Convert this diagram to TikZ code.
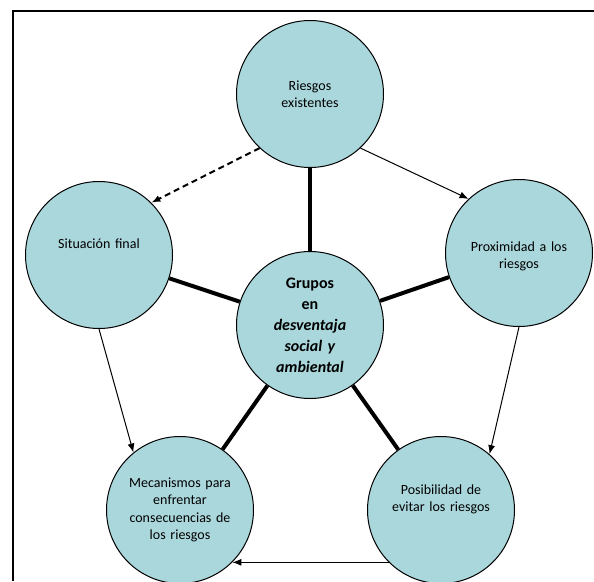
\documentclass[tikz,border=0pt]{standalone}
\usepackage{fontspec}
\setmainfont{Carlito}
\usetikzlibrary{arrows.meta}
\definecolor{celeste}{RGB}{170,215,220}
\tikzstyle{riesgo} = [circle, draw=black, line width=1pt, fill=celeste, minimum size=147pt, inner sep=0pt, text width=112pt, align=center, font=\fontsize{14}{17.5}\selectfont]
\tikzstyle{grupo} = [riesgo, text width=100pt, font=\bfseries\fontsize{16}{21}\selectfont]
\tikzstyle{enlace} = [line width=4pt]
\tikzstyle{arrow} = [line width=1pt, -{Latex[length=9pt,width=7pt]}]

\begin{document}
\begin{tikzpicture}[x=1pt,y=-1pt]
\useasboundingbox (0,0) rectangle (594,581);
\draw [line width=2.5pt] (13,581) -- (13,11) -- (594,11);
%
\node (riesgos) at (310,94) [riesgo] {Riesgos\\existentes};
%
\node (situacion) at (99,255) [riesgo, text depth=23pt] {Situación final};
%
\node (proximidad) at (519,253) [riesgo, text depth=13pt] {Proximidad a los\\riesgos};
%
\node (grupos) at (310,325) [grupo] {Grupos\\en\\\textit{desventaja}\\\textit{social y}\\\textit{ambiental}};
%
\node (mecanismos) at (180,510) [riesgo] {Mecanismos para\\enfrentar\\consecuencias de\\los riesgos};
%
\node (posibilidad) at (441,510) [riesgo, text depth=41pt] {Posibilidad de\\evitar los riesgos};
%
\draw [enlace] (grupos) -- (riesgos);
\draw [enlace] (grupos) -- (situacion);
\draw [enlace] (grupos) -- (proximidad);
\draw [enlace] (grupos) -- (mecanismos);
\draw [enlace] (grupos) -- (posibilidad);
%
\draw [arrow, line width=2pt, dash pattern=on 6pt off 4pt] (riesgos.227) -- (situacion.45);
\draw [arrow] (riesgos.313) -- (proximidad.133);
\draw [arrow] (situacion.270) -- (mecanismos.129);
\draw [arrow] (proximidad.270) -- (posibilidad.49);
\draw [arrow] (posibilidad.225) -- (mecanismos.315);

\end{tikzpicture}
\end{document}
